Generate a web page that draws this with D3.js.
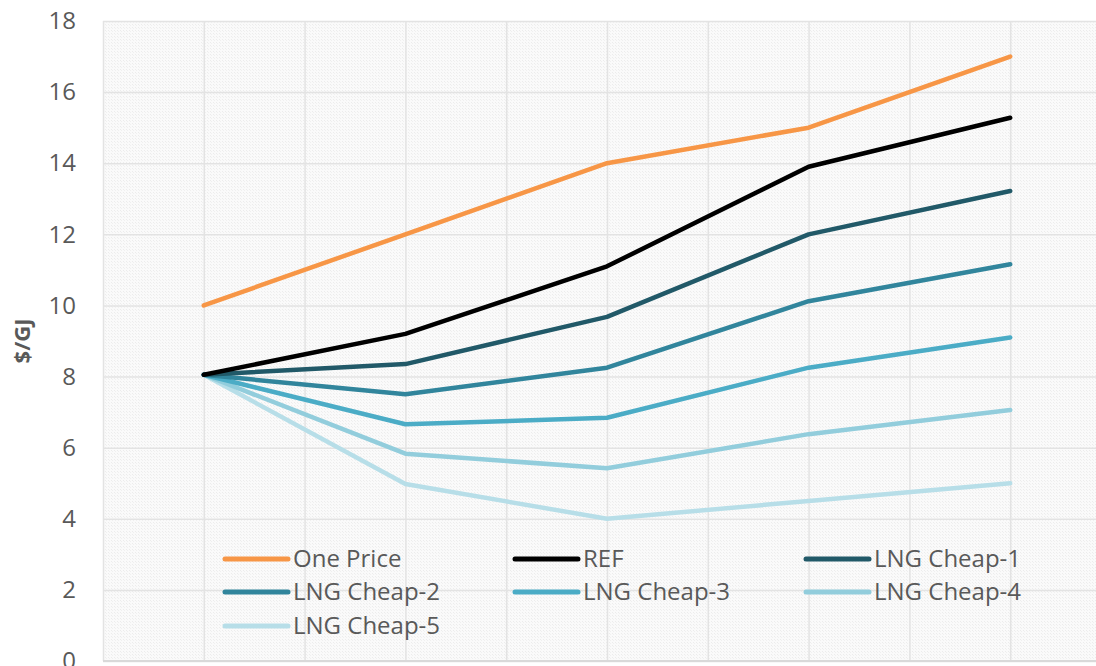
<!DOCTYPE html>
<html lang="en">
<head>
    <meta charset="UTF-8">
    <title>$/GJ</title>
    <script src="https://d3js.org/d3.v7.min.js"></script>
    <style>
        body { margin: 0; background: #fff; }
        text { font-family: "Open Sans", "Noto Sans", sans-serif; }
    </style>
</head>
<body>
    <svg id="chart" width="1096" height="666"></svg>

    <script>
        // Datos (5 puntos por serie)
        const steps = [0, 1, 2, 3, 4];
        const onePrice  = [10, 12, 14, 15, 17];
        const ref       = [8.05, 9.2, 11.1, 13.9, 15.28];
        const lngCheap1 = [8.05, 8.35, 9.68, 12.0, 13.22];
        const lngCheap2 = [8.05, 7.5, 8.25, 10.12, 11.16];
        const lngCheap3 = [8.05, 6.66, 6.84, 8.25, 9.1];
        const lngCheap4 = [8.05, 5.83, 5.42, 6.38, 7.06];
        const lngCheap5 = [8.05, 4.98, 4.0, 4.5, 5.0];
        const seriesNames = ["One Price", "REF", "LNG Cheap-1", "LNG Cheap-2", "LNG Cheap-3", "LNG Cheap-4", "LNG Cheap-5"];
        const yTicks = [0, 2, 4, 6, 8, 10, 12, 14, 16, 18];

        const series = [onePrice, ref, lngCheap1, lngCheap2, lngCheap3, lngCheap4, lngCheap5]
            .map((vals, i) => ({ name: seriesNames[i], values: vals }));
        const colors = ["#F79646", "#000000", "#215968", "#31859C", "#4BACC6", "#92CDDC", "#B7DEE8"];

        const svg = d3.select("#chart");

        // Escalas
        const x = d3.scaleLinear().domain([-0.5, 4.5]).range([103, 1111]);
        const y = d3.scaleLinear().domain([0, 18]).range([661, 21]);

        // Fondo con trama
        const defs = svg.append("defs");
        const pat = defs.append("pattern")
            .attr("id", "hatch").attr("width", 3).attr("height", 3)
            .attr("patternUnits", "userSpaceOnUse");
        pat.append("rect").attr("width", 3).attr("height", 3).attr("fill", "#fafafa");
        pat.append("rect").attr("width", 1).attr("height", 1).attr("fill", "#ececec");
        pat.append("rect").attr("x", 1).attr("y", 1).attr("width", 1).attr("height", 1).attr("fill", "#f0f0f0");

        svg.append("rect")
           .attr("x", x(-0.5)).attr("y", y(18))
           .attr("width", x(4.5) - x(-0.5)).attr("height", y(0) - y(18))
           .attr("fill", "url(#hatch)");

        // Rejilla
        svg.append("g")
           .attr("transform", `translate(${x(-0.5)},0)`)
           .call(d3.axisLeft(y).tickValues(yTicks).tickSize(-(x(4.5) - x(-0.5))).tickFormat(""))
           .call(g => g.select(".domain").remove())
           .call(g => g.selectAll("line").attr("stroke", "#e3e3e3").attr("stroke-width", 1.5));

        svg.append("g")
           .attr("transform", `translate(0,${y(0)})`)
           .call(d3.axisBottom(x).tickValues(d3.range(-0.5, 4.51, 0.5)).tickSize(-(y(0) - y(18))).tickFormat(""))
           .call(g => g.select(".domain").remove())
           .call(g => g.selectAll("line").attr("stroke", "#e3e3e3").attr("stroke-width", 1.5));

        // Eje X (línea base)
        svg.append("line")
           .attr("x1", x(-0.5)).attr("x2", x(4.5))
           .attr("y1", y(0)).attr("y2", y(0))
           .attr("stroke", "#d9d9d9").attr("stroke-width", 2);

        // Etiquetas Y
        svg.append("g")
           .attr("transform", `translate(${x(-0.5)},0)`)
           .call(d3.axisLeft(y).tickValues(yTicks).tickSize(0).tickPadding(27))
           .call(g => g.select(".domain").remove())
           .call(g => g.selectAll("text")
                       .attr("fill", "#595959")
                       .style("font-size", "24px"));

        svg.append("text")
           .attr("transform", `translate(30,${(y(0) + y(18)) / 2}) rotate(-90)`)
           .attr("text-anchor", "middle")
           .attr("fill", "#595959")
           .style("font-size", "22px")
           .style("font-weight", "bold")
           .text("$/GJ");

        // Líneas
        const line = d3.line()
                       .x((d, i) => x(steps[i]))
                       .y(d => y(d));

        svg.append("g").selectAll("path")
           .data(series.slice().reverse())
           .join("path")
           .attr("fill", "none")
           .attr("stroke", d => colors[seriesNames.indexOf(d.name)])
           .attr("stroke-width", 4.5)
           .attr("stroke-linejoin", "round")
           .attr("stroke-linecap", "round")
           .attr("d", d => line(d.values));

        // Leyenda
        const legX = [225, 515, 806];
        const legY = [559, 592, 626];
        const leg = svg.append("g").selectAll("g")
           .data(series)
           .join("g")
           .attr("transform", (d, i) => `translate(${legX[i % 3]},${legY[Math.floor(i / 3)]})`);
        leg.append("line")
           .attr("x1", 0).attr("x2", 63)
           .attr("stroke", (d, i) => colors[i])
           .attr("stroke-width", 5)
           .attr("stroke-linecap", "round");
        leg.append("text")
           .attr("x", 68).attr("dy", "0.35em")
           .attr("fill", "#595959")
           .style("font-size", "24px")
           .text(d => d.name);
    </script>
</body>
</html>
